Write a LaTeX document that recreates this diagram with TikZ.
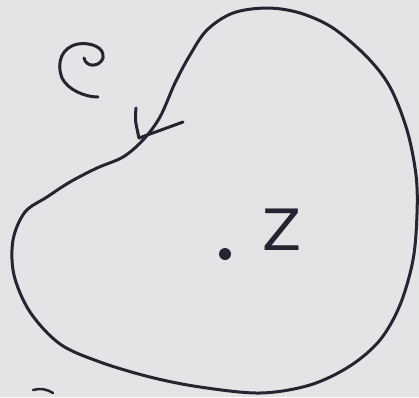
\documentclass[tikz,border=0pt]{standalone}
\usepackage{fontspec}
\newfontfamily\handfont{DejaVu Sans}
\definecolor{paper}{RGB}{228,228,230}
\definecolor{ink}{RGB}{38,36,48}
\begin{document}
\begin{tikzpicture}[x=1pt,y=-1pt,
  pen/.style={draw=ink,line width=3pt,line cap=round,line join=round}]
\fill[paper] (0,0) rectangle (419,397);
\useasboundingbox (0,0) rectangle (419,397);
% closed contour
\draw[pen] plot[smooth cycle, tension=0.55] coordinates {
 (143,140) (160,117) (175,83) (190,55) (207,30) (233,13) (267,8) (300,13)
 (333,28) (367,57) (390,87) (407,130) (416,175) (417,214) (413,260) (400,305)
 (380,340) (350,366) (310,385) (260,393) (200,387) (150,377) (100,362)
 (60,344) (30,312) (14,275) (13,240) (25,212) (47,197) (70,182) (97,168) (123,157)};
% arrowhead on the contour
\coordinate (tip) at (139,138);
\coordinate (wingA) at (136,108);
\coordinate (wingB) at (183,122);
\draw[pen] (wingA) .. controls (135,120) .. (tip) -- (wingB);
% curly C label
\draw[pen] (84,58) .. controls (86,68) and (100,67) .. (103,58)
  .. controls (105,47) and (90,42) .. (78,44)
  .. controls (62,47) and (56,62) .. (62,78)
  .. controls (68,90) and (85,97) .. (98,97);
% point and its label
\node[circle,fill=ink,inner sep=0pt,minimum size=12pt] (z) at (225,254) {};
\node[text=ink,font=\handfont\fontsize{57}{57}\selectfont,inner sep=0pt] (zlabel) at (282,230) {Z};
% stray pen mark
\draw[pen,line width=2.5pt] (33,390) .. controls (40,388) and (47,389) .. (53,393);
\end{tikzpicture}
\end{document}
